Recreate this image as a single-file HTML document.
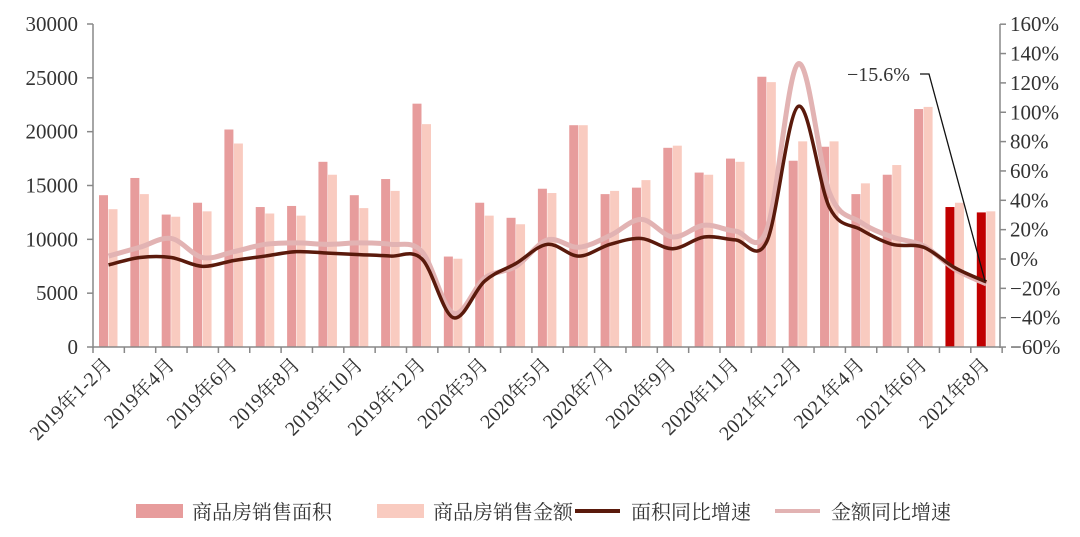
<!DOCTYPE html>
<html><head><meta charset="utf-8"><style>
body{margin:0;background:#fff;}
svg text{font-family:"Liberation Serif","Noto Serif CJK SC",serif;fill:#333;}
</style></head><body>
<svg id="c" width="1080" height="532" xmlns="http://www.w3.org/2000/svg"></svg>
<script>
const s=document.getElementById('c');let h='';
const X0=93,W=31.35,Y0=347,Yt=24;
const yl=v=>Y0-v/30000*(Y0-Yt);
const yr=p=>259-p/20*29.35;
const A=[14100,15700,12300,13400,20200,13000,13100,17200,14100,15600,22600,8400,13400,12000,14700,20600,14200,14800,18500,16200,17500,25100,17300,18600,14200,16000,22100,13000,12500];
const B=[12800,14200,12100,12600,18900,12400,12200,16000,12900,14500,20700,8200,12200,11400,14300,20600,14500,15500,18700,16000,17200,24600,19100,19100,15200,16900,22300,13400,12600];
const L1=[-4,1,1,-5,-1,2,5,4,3,2,0,-40,-15,-3,10,2,10,14,7,15,13,12,104,35,20,10,8,-6,-15.6];
const L2=[2,8,14,1,5,10,11,10,11,10,5,-37,-13,-5,13,8,16,27,15,23,19,20,133,45,25,15,9,-7,-17];
for(let i=0;i<29;i++){const x=X0+i*W;
h+=`<rect x="${x+6}" y="${yl(A[i])}" width="9" height="${Y0-yl(A[i])}" fill="${i>=27?'#c00000':'#e79c9c'}"/>`;
h+=`<rect x="${x+15.5}" y="${yl(B[i])}" width="9" height="${Y0-yl(B[i])}" fill="#f9cbc0"/>`;}
function path(L){const p=L.map((v,i)=>[X0+i*W+15.5,yr(v)]);let d=`M${p[0][0]},${p[0][1]}`;
for(let i=0;i<p.length-1;i++){const a=p[Math.max(i-1,0)],b=p[i],c=p[i+1],e=p[Math.min(i+2,p.length-1)];
d+=` C${b[0]+(c[0]-a[0])/6},${b[1]+(c[1]-a[1])/6} ${c[0]-(e[0]-b[0])/6},${c[1]-(e[1]-b[1])/6} ${c[0]},${c[1]}`;}return d;}
h+=`<path d="${path(L2)}" fill="none" stroke="#e2b3b3" stroke-width="5"/>`;
h+=`<path d="${path(L1)}" fill="none" stroke="#5a1a0c" stroke-width="3.5"/>`;
h+=`<g stroke="#888" stroke-width="1.5" fill="none"><line x1="93" y1="24" x2="93" y2="348"/><line x1="1000" y1="24" x2="1000" y2="348"/><line x1="93" y1="347" x2="1000" y2="347"/>`;
for(let k=0;k<=6;k++){const y=yl(k*5000);h+=`<line x1="87" y1="${y}" x2="93" y2="${y}"/>`;}
for(let k=-3;k<=8;k++){const y=yr(k*20);h+=`<line x1="1000" y1="${y}" x2="1006" y2="${y}"/>`;}
for(let i=0;i<=29;i++){const x=X0+i*W;h+=`<line x1="${x}" y1="347" x2="${x}" y2="353"/>`;}
h+=`</g>`;
for(let k=0;k<=6;k++)h+=`<text x="78" y="${yl(k*5000)+7}" font-size="21" text-anchor="end">${k*5000}</text>`;
for(let k=-3;k<=8;k++)h+=`<text x="1010" y="${yr(k*20)+7}" font-size="21">${k<0?'−':''}${Math.abs(k*20)}%</text>`;
const labs=['2019年1-2月','2019年4月','2019年6月','2019年8月','2019年10月','2019年12月','2020年3月','2020年5月','2020年7月','2020年9月','2020年11月','2021年1-2月','2021年4月','2021年6月','2021年8月'];
labs.forEach((t,j)=>{const x=X0+2*j*W+20;h+=`<text transform="translate(${x},366) rotate(-45)" font-size="20" text-anchor="end">${t}</text>`;});
h+=`<text x="847" y="81" font-size="20">−15.6%</text><polyline points="920,74 929,74 985,281" fill="none" stroke="#111" stroke-width="1.3"/>`;
const lg=[[136,'rect','#e79c9c','商品房销售面积'],[377,'rect','#f9cbc0','商品房销售金额'],[575,'line','#5a1a0c','面积同比增速'],[775,'line','#e2b3b3','金额同比增速']];
lg.forEach(([x,t,c,n])=>{if(t=='rect')h+=`<rect x="${x}" y="504" width="47" height="14" fill="${c}"/>`;else h+=`<line x1="${x}" y1="511" x2="${x+45}" y2="511" stroke="${c}" stroke-width="4"/>`;
h+=`<text x="${x+56}" y="519" font-size="20">${n}</text>`;});
s.innerHTML=h;
</script>
</body></html>
